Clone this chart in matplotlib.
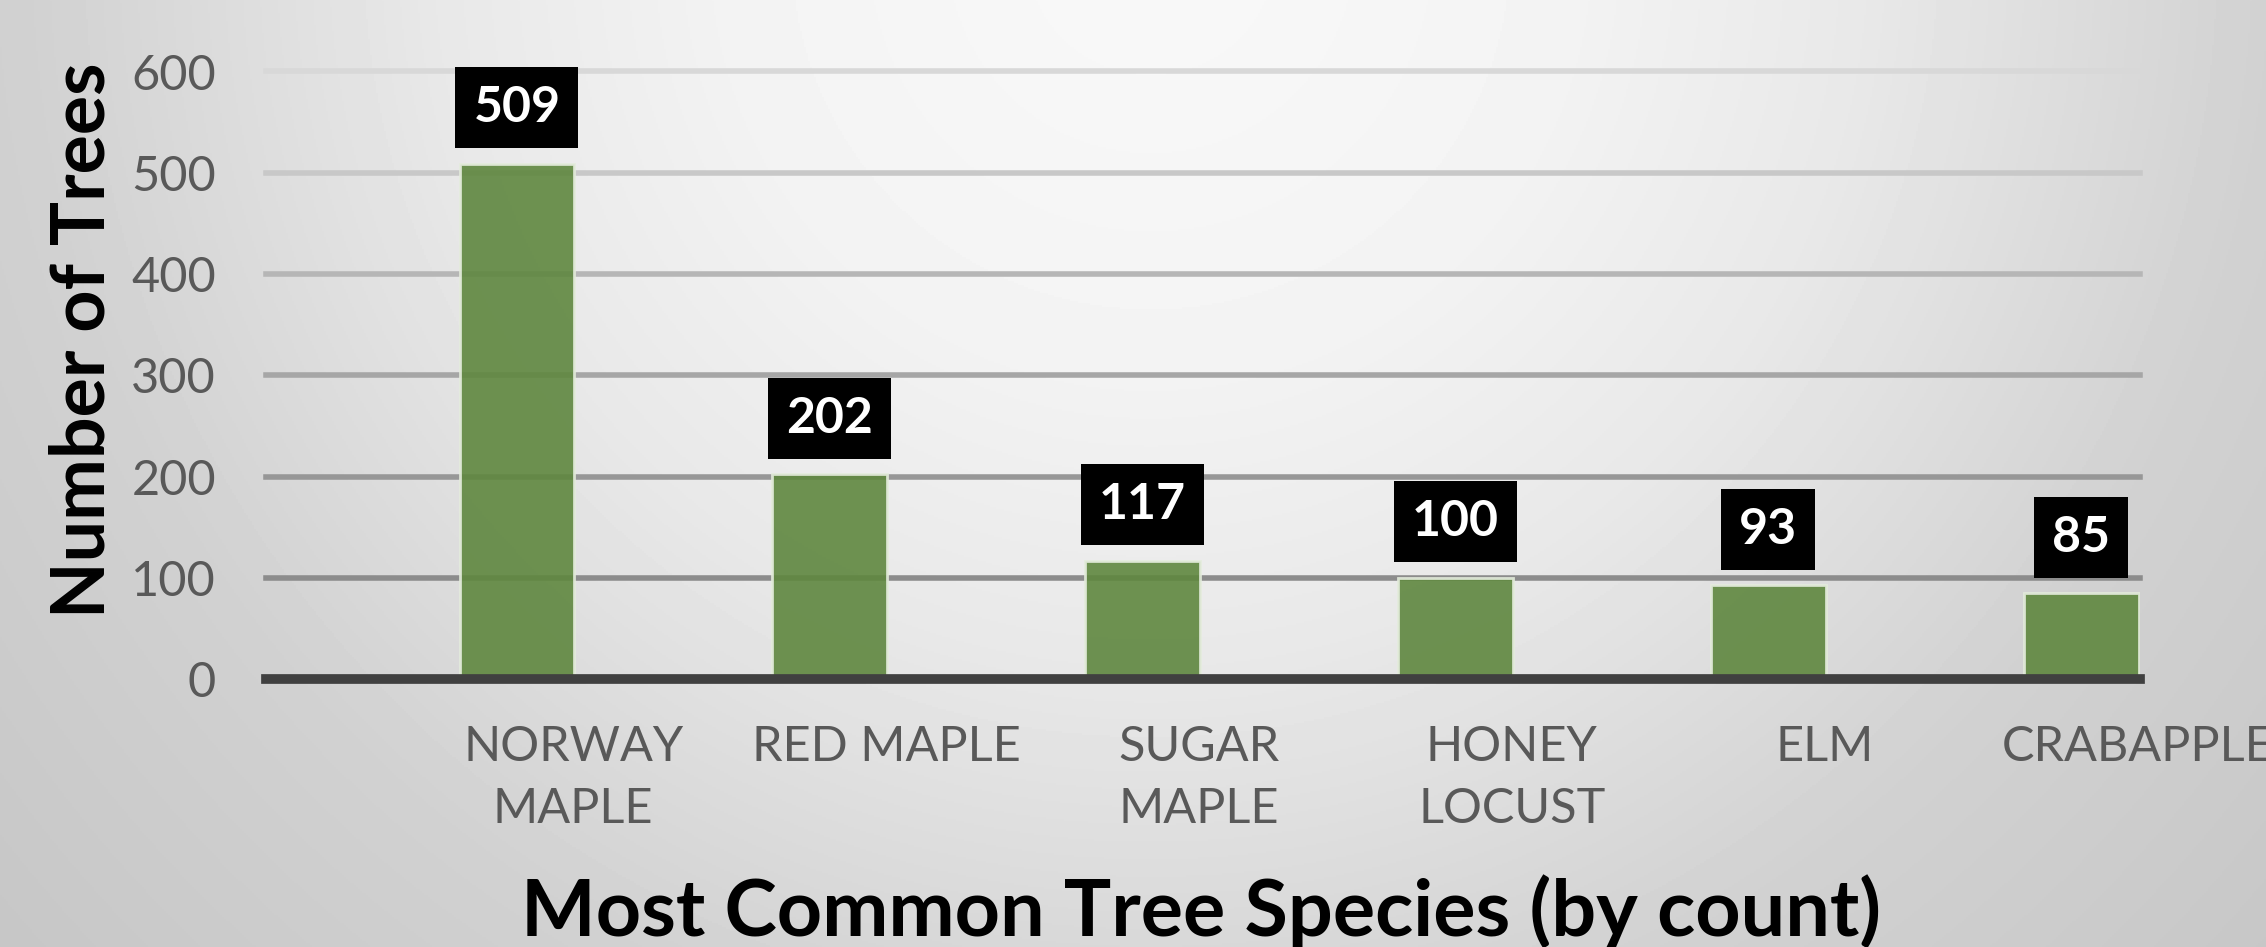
import numpy as np
import matplotlib
matplotlib.use("Agg")
import matplotlib.pyplot as plt

# chart data
species = ["NORWAY\nMAPLE", "RED MAPLE", "SUGAR\nMAPLE", "HONEY\nLOCUST", "ELM", "CRABAPPLE"]
counts = [509, 202, 117, 100, 93, 85]
y_ticks = [0, 100, 200, 300, 400, 500, 600]

W, H, DPI = 2266, 947, 100
plt.rcParams['font.family'] = ['Lato', 'DejaVu Sans']

fig = plt.figure(figsize=(W / DPI, H / DPI), dpi=DPI)

# soft radial grey background, lightest at the top centre
bg = fig.add_axes([0, 0, 1, 1], zorder=-10)
yy, xx = np.mgrid[0:H:2, 0:W:2]
d = np.hypot(xx - 1150, yy + 50)
shade = np.interp(d, [0, 400, 718, 1120, 1500], [0.975, 0.955, 0.91, 0.82, 0.78])
bg.imshow(shade, cmap='gray', vmin=0, vmax=1, aspect='auto', extent=[0, 1, 0, 1], origin='upper')
bg.axis('off')

ax = fig.add_axes([266 / W, 1 - 679 / H, (2140 - 266) / W, (679 - 71.5) / H])
ax.patch.set_alpha(0)
x = np.arange(len(species))
bar_w = 0.367
ax.set_xlim(-0.802, len(species) - 1 + 0.188)
ax.set_ylim(0, 600)

# gridlines get darker towards the baseline
grid_cols = ['#8c8c8c', '#979797', '#a6a6a6', '#b6b6b6', '#c8c8c8', '#d8d8d8']
for val, col in zip(y_ticks[1:], grid_cols):
    ax.axhline(val, color=col, lw=4, zorder=1, clip_on=False)
ax.axhline(0, color='#404040', lw=7, zorder=4, clip_on=False)

ax.bar(x, counts, width=bar_w, color='#5f873f', alpha=0.9,
       edgecolor='#e4ecdc', linewidth=2, zorder=3)

for xi, c in zip(x, counts):
    ax.annotate(str(c), (xi, c), xytext=(0, 24), textcoords='offset points',
                ha='center', va='bottom', color='white', fontsize=36,
                fontweight='bold', zorder=5,
                bbox=dict(boxstyle='square,pad=0.36', fc='black', ec='none'))

for s in ax.spines.values():
    s.set_visible(False)

ax.set_yticks(y_ticks)
ax.tick_params(axis='y', length=0, pad=36, labelsize=35, labelcolor='#595959')
ax.set_xticks(x + 0.18)
ax.set_xticklabels(species)
ax.tick_params(axis='x', length=0, pad=33, labelsize=35, labelcolor='#595959')
for t in ax.get_xticklabels():
    t.set_linespacing(1.5)

fig.text(83 / W, 1 - 340 / H, "Number of Trees", rotation=90, ha='center', va='center',
         fontsize=53, fontweight='bold', color='black')
fig.text(1201 / W, 11 / H, "Most Common Tree Species (by count)", ha='center', va='baseline',
         fontsize=57, fontweight='bold', color='black')

fig.savefig('out.png', dpi=DPI)
